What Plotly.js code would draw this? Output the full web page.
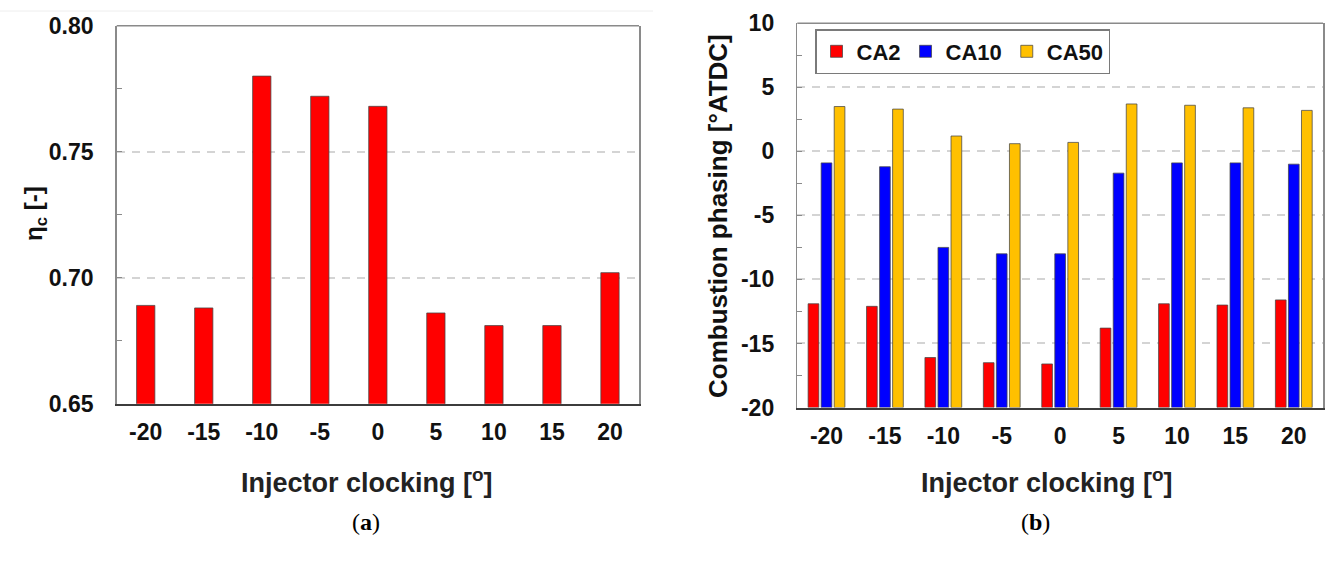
<!DOCTYPE html>
<html>
<head>
<meta charset="utf-8">
<script src="https://cdn.plot.ly/plotly-3.0.1.min.js"></script>
<style>html,body{margin:0;padding:0;background:#fff;}#chart{width:1326px;height:570px;}</style>
</head>
<body>
<div id="chart"></div>
<script>
// ---- data ----
const clocking = ['-20', '-15', '-10', '-5', '0', '5', '10', '15', '20'];
const etaC = [0.689, 0.688, 0.780, 0.772, 0.768, 0.686, 0.681, 0.681, 0.702];
const ca2  = [-11.9, -12.1, -16.1, -16.5, -16.6, -13.8, -11.9, -12.0, -11.6];
const ca10 = [-0.9, -1.2, -7.5, -8.0, -8.0, -1.7, -0.9, -0.9, -1.0];
const ca50 = [3.5, 3.3, 1.2, 0.6, 0.7, 3.7, 3.6, 3.4, 3.2];
const seriesNames = ['CA2', 'CA10', 'CA50'];
const etaTicks = [0.65, 0.70, 0.75, 0.80];
const etaTickText = ['0.65', '0.70', '0.75', '0.80'];
const phaseTicks = [-20, -15, -10, -5, 0, 5, 10];
const phaseTickText = ['-20', '-15', '-10', '-5', '0', '5', '10'];
const etaRange = [0.65, 0.80];
const phaseRange = [-20, 10];

const W = 1326, H = 570;
const px = v => v / W;
const py = v => 1 - v / H;

const FONT = 'Liberation Sans, Arial, sans-serif';
const tickFont = {family: FONT, size: 23, color: '#111', weight: 700};
const edge = 'rgba(70,70,70,0.75)';

const phaseBase = phaseRange[0];
function phaseTrace(vals, name, color, showleg) {
  return {
    type: 'bar', x: clocking, y: vals.map(v => v - phaseBase), base: phaseBase,
    name: name, xaxis: 'x2', yaxis: 'y2',
    marker: {color: color, line: {color: edge, width: 1}},
    customdata: vals, hovertemplate: '%{x}: %{customdata}<extra>' + name + '</extra>',
    showlegend: showleg
  };
}

const traces = [
  {type: 'bar', x: clocking, y: etaC, xaxis: 'x', yaxis: 'y', showlegend: false,
   marker: {color: '#ff0000', line: {color: edge, width: 1}}, width: 0.315},
  phaseTrace(ca2, seriesNames[0], '#ff0000', true),
  phaseTrace(ca10, seriesNames[1], '#0000ff', true),
  phaseTrace(ca50, seriesNames[2], '#ffc000', true)
];

const gridStyle = {showgrid: true, gridcolor: '#d4d4d4', gridwidth: 2, griddash: '8px,7px'};
const frameColor = '#8a8a8a';

const layout = {
  width: W, height: H,
  margin: {l: 0, r: 0, t: 0, b: 0},
  paper_bgcolor: '#fff', plot_bgcolor: '#fff',
  barmode: 'group', bargap: 0.33, bargroupgap: 0.18,
  showlegend: true,
  legend: {
    x: px(815), y: py(29), xanchor: 'left', yanchor: 'top',
    orientation: 'h', bgcolor: '#fff', bordercolor: '#7a7a7a', borderwidth: 1.5,
    font: {family: FONT, size: 22, color: '#111', weight: 700},
    itemwidth: 30, tracegroupgap: 0
  },
  xaxis: {
    domain: [px(116.7), px(639)], type: 'category', anchor: 'y',
    showline: true, linecolor: '#3c3c3c', linewidth: 2, ticks: '',
    tickfont: tickFont, ticklabelstandoff: 7, showgrid: false, fixedrange: true
  },
  yaxis: Object.assign({
    domain: [py(403.7), py(25.7)], range: etaRange, anchor: 'x',
    tickvals: etaTicks, ticktext: etaTickText,
    showline: true, mirror: true, linecolor: frameColor, linewidth: 1.5,
    ticks: 'inside', ticklen: 5, tickcolor: frameColor, tickwidth: 1.5,
    minor: {dtick: 0.025, tick0: 0.65, ticks: 'inside', ticklen: 5, tickcolor: frameColor, tickwidth: 1.5, showgrid: false},
    tickfont: tickFont, ticklabelstandoff: 17, zeroline: false, fixedrange: true
  }, gridStyle),
  xaxis2: {
    domain: [px(797.3), px(1323)], type: 'category', anchor: 'y2',
    showline: true, linecolor: '#3c3c3c', linewidth: 2, ticks: '',
    tickfont: tickFont, ticklabelstandoff: 7, showgrid: false, fixedrange: true
  },
  yaxis2: Object.assign({
    domain: [py(407.5), py(23.3)], range: phaseRange, anchor: 'x2',
    tickvals: phaseTicks, ticktext: phaseTickText,
    showline: true, mirror: true, linecolor: frameColor, linewidth: 1.5,
    ticks: 'inside', ticklen: 5, tickcolor: frameColor, tickwidth: 1.5,
    minor: {dtick: 2.5, tick0: 0, ticks: 'inside', ticklen: 5, tickcolor: frameColor, tickwidth: 1.5, showgrid: false},
    tickfont: tickFont, ticklabelstandoff: 17, zeroline: false, fixedrange: true
  }, gridStyle),
  shapes: [
    {type: 'line', xref: 'x domain', yref: 'y domain', x0: 0, x1: 1, y0: 1, y1: 1, line: {color: frameColor, width: 1.5}},
    {type: 'line', xref: 'x2 domain', yref: 'y2 domain', x0: 0, x1: 1, y0: 1, y1: 1, line: {color: frameColor, width: 1.5}},
    {type: 'line', xref: 'paper', yref: 'paper', x0: 0, x1: px(653), y0: py(11), y1: py(11), line: {color: '#eeeeee', width: 1}}
  ],
  annotations: [
    {text: 'η<sub>c</sub> [-]', xref: 'paper', yref: 'paper', x: px(35), y: py(214), textangle: -90,
     showarrow: false, xanchor: 'center', yanchor: 'middle', font: {family: FONT, size: 24, color: '#111', weight: 700}},
    {text: 'Combustion phasing [°ATDC]', xref: 'paper', yref: 'paper', x: px(718), y: py(216), textangle: -90,
     showarrow: false, xanchor: 'center', yanchor: 'middle', font: {family: FONT, size: 26, color: '#111', weight: 700}},
    {text: 'Injector clocking [<sup>o</sup>]', xref: 'paper', yref: 'paper', x: px(367), y: py(481),
     showarrow: false, xanchor: 'center', yanchor: 'middle', font: {family: FONT, size: 27, color: '#222', weight: 700}},
    {text: 'Injector clocking [<sup>o</sup>]', xref: 'paper', yref: 'paper', x: px(1047), y: py(481),
     showarrow: false, xanchor: 'center', yanchor: 'middle', font: {family: FONT, size: 27, color: '#222', weight: 700}},
    {text: '(<b>a</b>)', xref: 'paper', yref: 'paper', x: px(366), y: py(522),
     showarrow: false, xanchor: 'center', yanchor: 'middle', font: {family: 'Liberation Serif, Times New Roman, serif', size: 24, color: '#000'}},
    {text: '(<b>b</b>)', xref: 'paper', yref: 'paper', x: px(1035), y: py(522),
     showarrow: false, xanchor: 'center', yanchor: 'middle', font: {family: 'Liberation Serif, Times New Roman, serif', size: 24, color: '#000'}}
  ]
};

Plotly.newPlot('chart', traces, layout, {displayModeBar: false, staticPlot: true});
</script>
</body>
</html>
